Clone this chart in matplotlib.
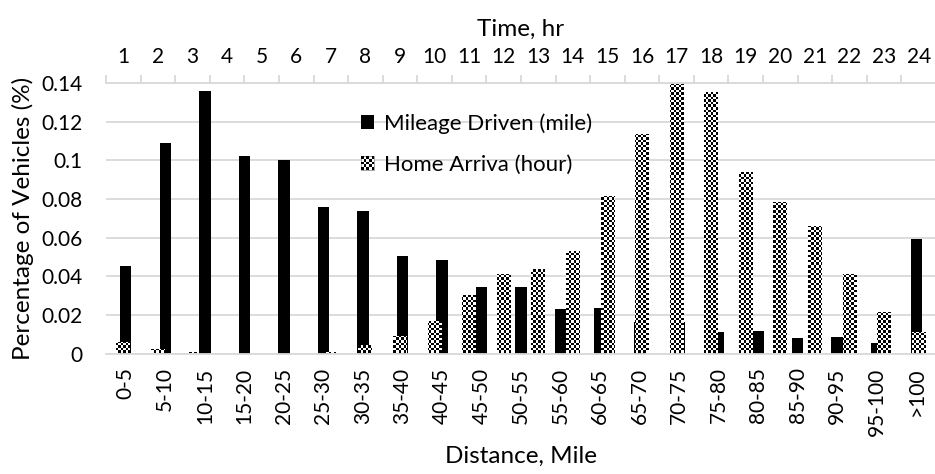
import numpy as np
import matplotlib.pyplot as plt
from matplotlib.patches import Patch, Rectangle
from matplotlib.legend_handler import HandlerBase

# share of vehicles by daily mileage (bottom axis)
distance_bins = ['0-5', '5-10', '10-15', '15-20', '20-25', '25-30', '30-35',
                 '35-40', '40-45', '45-50', '50-55', '55-60', '60-65', '65-70',
                 '70-75', '75-80', '80-85', '85-90', '90-95', '95-100', '>100']
mileage_share = [0.0455, 0.109, 0.136, 0.1024, 0.1002, 0.076, 0.0738,
                 0.0506, 0.0484, 0.0342, 0.0345, 0.0228, 0.0238, 0.0164,
                 0.0165, 0.0112, 0.0117, 0.0081, 0.0085, 0.0055, 0.0591]

# share of vehicles by home arrival hour (top axis)
hours = ['1', '2', '3', '4', '5', '6', '7', '8', '9', '10', '11', '12',
         '13', '14', '15', '16', '17', '18', '19', '20', '21', '22', '23', '24']
arrival_share = [0.006, 0.0022, 0.0008, 0.0003, 0.0001, 0.0002, 0.0008, 0.0043,
                 0.009, 0.0169, 0.0302, 0.0411, 0.0435, 0.0532, 0.0815, 0.1137,
                 0.1396, 0.1353, 0.0938, 0.0786, 0.066, 0.041, 0.0216, 0.0112]

yticks = [0, 0.02, 0.04, 0.06, 0.08, 0.1, 0.12, 0.14]
ytick_labels = ['0', '0.02', '0.04', '0.06', '0.08', '0.1', '0.12', '0.14']

GRID = '#d9d9d9'
TITLE_SIZE = 17.5
plt.rcParams['font.family'] = ['Lato', 'DejaVu Sans']
plt.rcParams['font.size'] = 15


class CheckerHandler(HandlerBase):
    # small checkerboard square for the legend
    def create_artists(self, legend, orig_handle, xdescent, ydescent,
                       width, height, fontsize, trans):
        n = 5
        s = min(width, height)
        x0, y0 = -xdescent, -ydescent + (height - s) / 2
        cells = [Rectangle((x0, y0), s, s, facecolor='white', edgecolor='#808080',
                           lw=0.5, transform=trans)]
        for i in range(n):
            for j in range(n):
                if (i + j) % 2 == 0:
                    cells.append(Rectangle((x0 + i * s / n, y0 + j * s / n), s / n, s / n,
                                           facecolor='black', lw=0, transform=trans))
        return cells


W, H = 935, 474
fig = plt.figure(figsize=(W / 100, H / 100), dpi=100)
ax = fig.add_axes([106 / W, (H - 353.5) / H, 830 / W, 270.5 / H])
ax2 = ax.twiny()

# mileage bars
x_dist = np.arange(len(distance_bins))
ax.bar(x_dist, mileage_share, width=0.29, color='black', zorder=2)
ax.set_xlim(-0.5, len(distance_bins) - 0.5)
ax.set_ylim(0, 0.14)
ax.set_yticks(yticks)
ax.set_yticklabels(ytick_labels)
ax.grid(axis='y', color=GRID, lw=1.3)
ax.set_axisbelow(True)
ax.set_xticks(x_dist)
ax.set_xticklabels(distance_bins, rotation=90, va='top')
ax.tick_params(axis='x', length=0, pad=10)
ax.tick_params(axis='y', length=0, pad=17)
for s in ['left', 'right', 'top']:
    ax.spines[s].set_visible(False)
ax.spines['bottom'].set_color(GRID)
ax.spines['bottom'].set_linewidth(1.3)
ax.set_xlabel('Distance, Mile', fontsize=TITLE_SIZE, labelpad=7)
ax.set_ylabel('Percentage of Vehicles (%)', fontsize=TITLE_SIZE, labelpad=5)

# home arrival bars, filled with a checkerboard texture
x_hr = np.arange(len(hours))
bars = ax2.bar(x_hr, arrival_share, width=0.4, color='none', edgecolor='none')
checker = np.indices((108, 332)).sum(axis=0) % 2
for b in bars:
    im = ax2.imshow(checker, cmap='Greys', vmin=0, vmax=1, interpolation='nearest',
                    extent=(-0.5, len(hours) - 0.5, 0, 0.14), origin='lower',
                    aspect='auto', zorder=3)
    im.set_clip_path(b)
ax2.set_xlim(-0.5, len(hours) - 0.5)
ax.set_ylim(0, 0.14)
ax2.set_xticks(np.arange(-0.5, len(hours), 1))
ax2.set_xticklabels([])
ax2.set_xticks(x_hr, minor=True)
ax2.set_xticklabels(hours, minor=True)
ax2.tick_params(axis='x', which='major', length=6, width=1.3, color=GRID)
ax2.tick_params(axis='x', which='minor', length=0, pad=11.5)
for s in ['left', 'right', 'bottom']:
    ax2.spines[s].set_visible(False)
ax2.spines['top'].set_color(GRID)
ax2.spines['top'].set_linewidth(1.3)
ax2.set_xlabel('Time, hr', fontsize=TITLE_SIZE, labelpad=8)

handles = [Patch(facecolor='black', label='Mileage Driven (mile)'),
           Patch(facecolor='white', label='Home Arriva (hour)')]
leg = ax2.legend(handles=handles, loc='upper left', fontsize=16,
                 bbox_to_anchor=(350 / W, (H - 102) / H), bbox_transform=fig.transFigure,
                 frameon=False, handlelength=0.6, handleheight=0.6, handletextpad=0.45,
                 labelspacing=0.95, borderpad=0,
                 handler_map={handles[1]: CheckerHandler()})

fig.savefig('out.png', dpi=100)
